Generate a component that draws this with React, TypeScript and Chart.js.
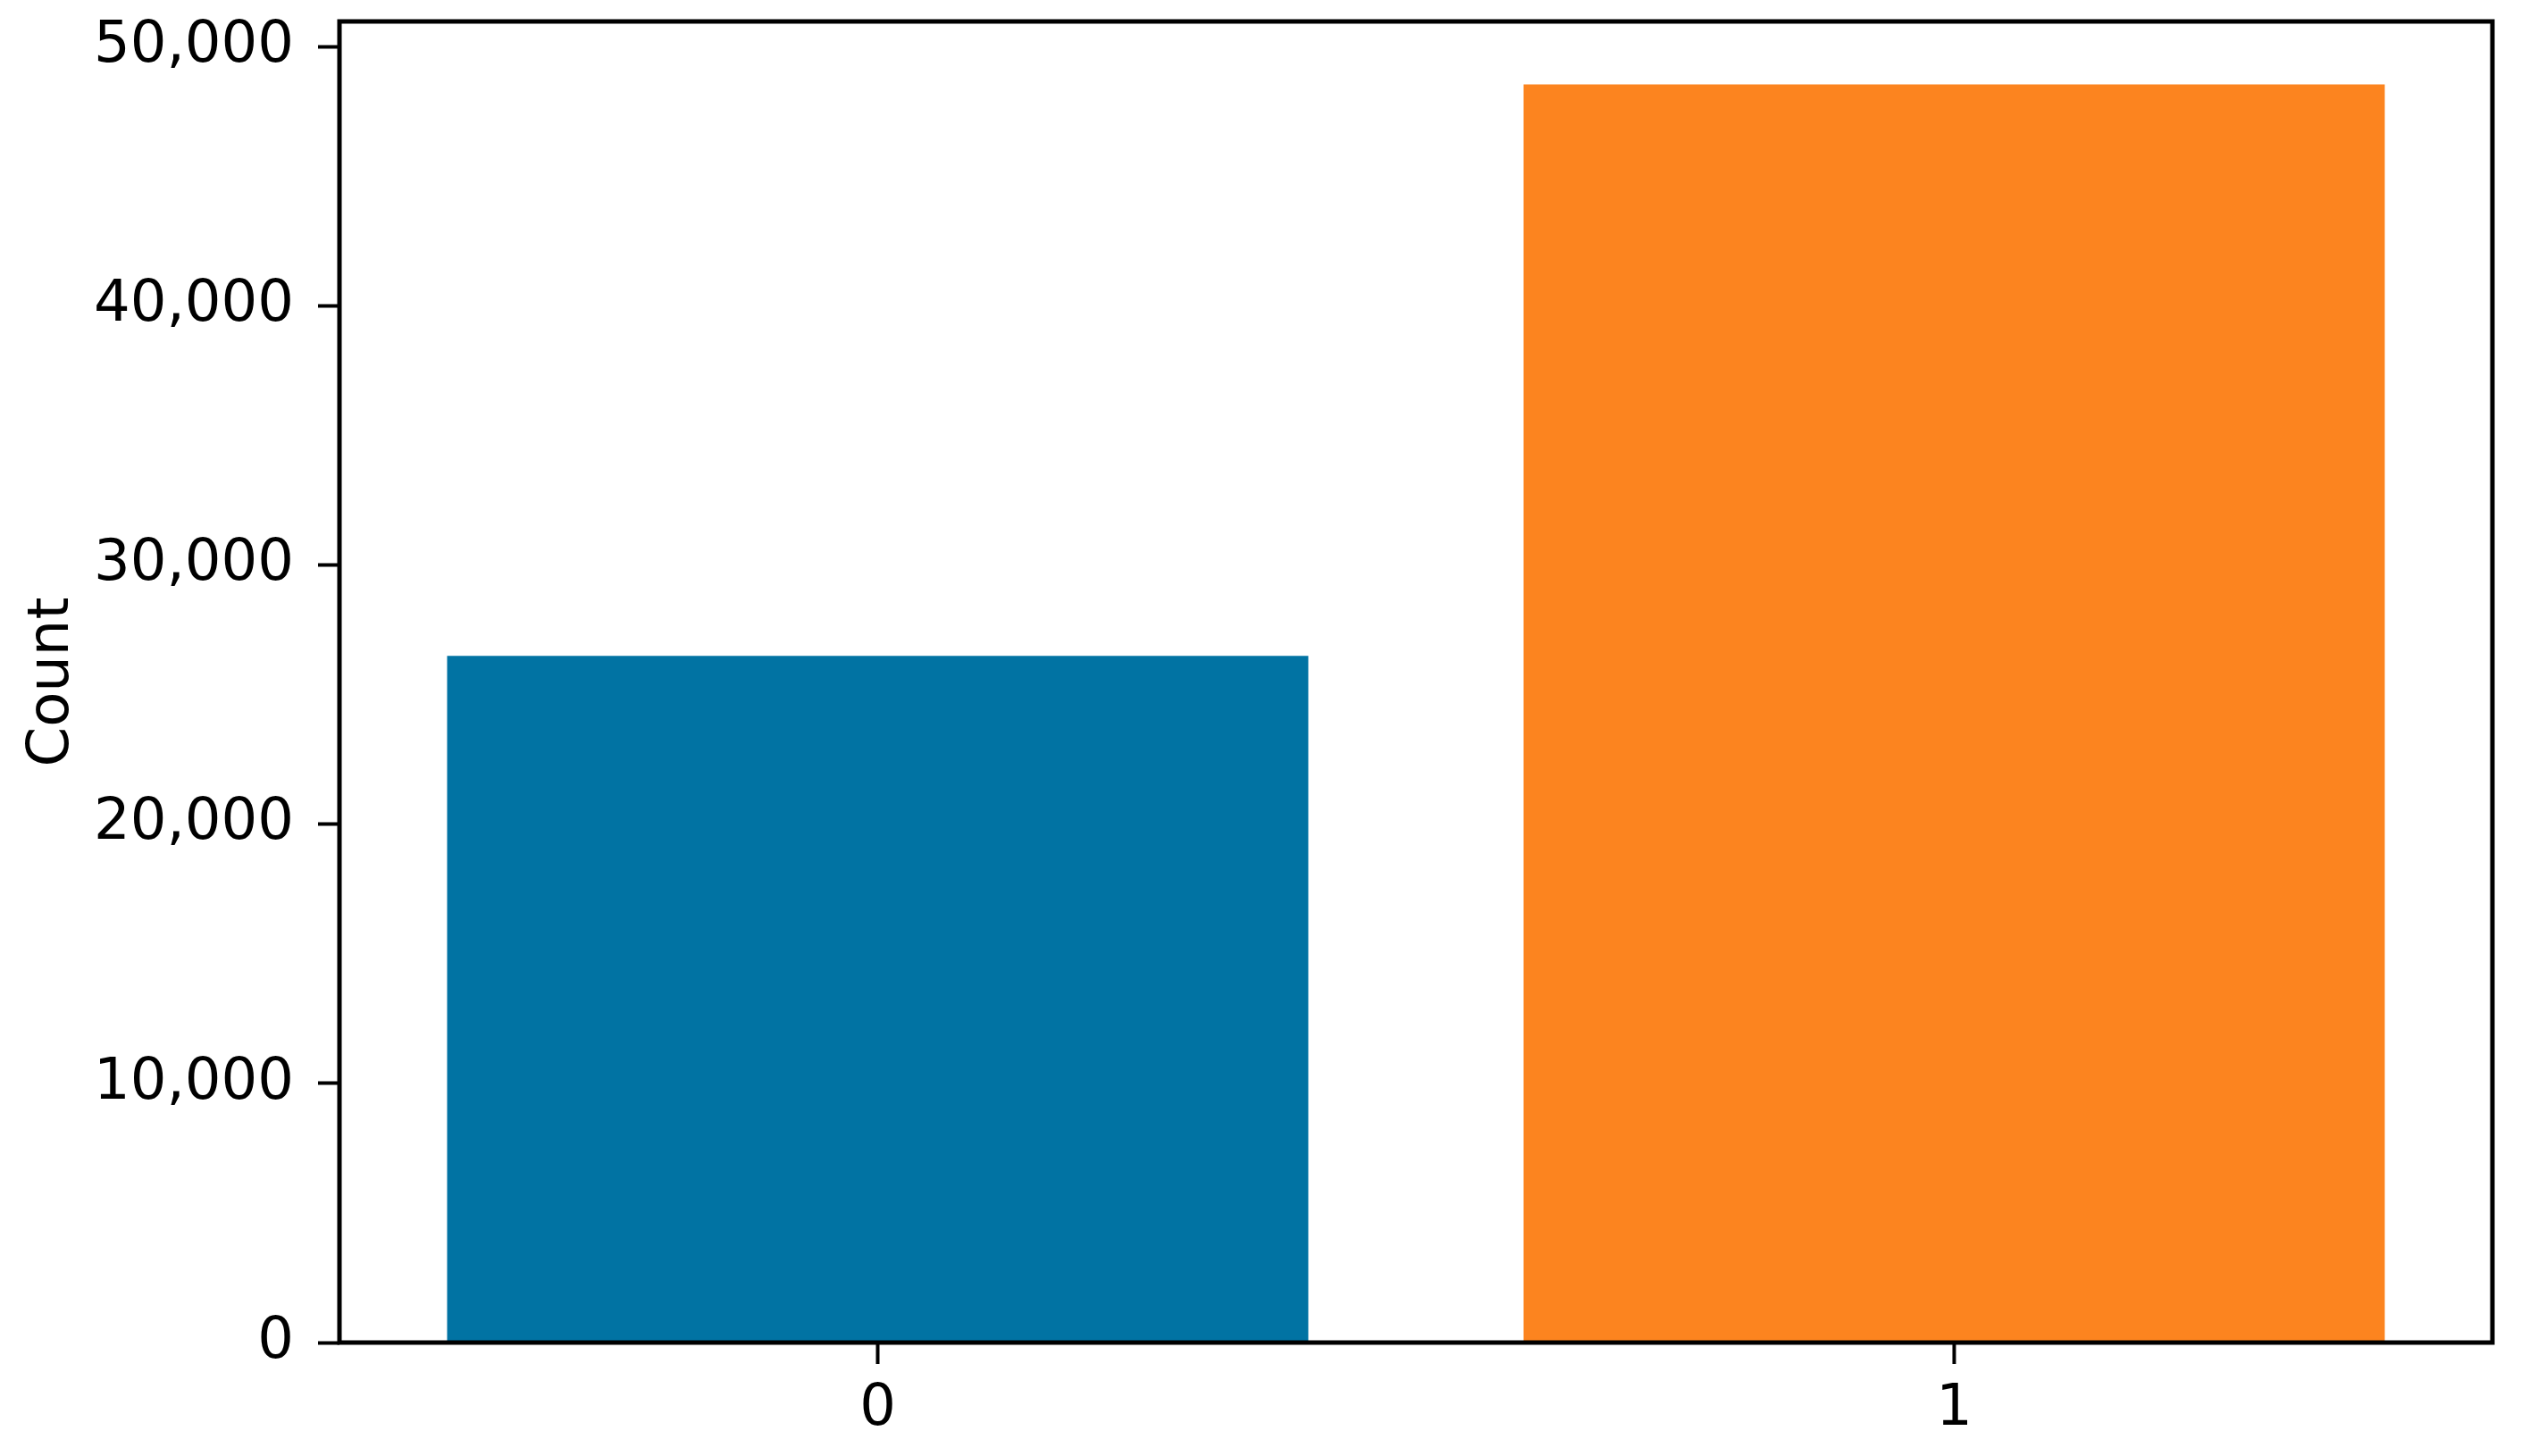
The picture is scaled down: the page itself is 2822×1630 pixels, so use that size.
import React, { useEffect, useRef } from "react";
import { Chart, registerables } from "chart.js";

Chart.register(...registerables);

const CATEGORIES = ["0", "1"];
const COUNTS = [26500, 48550];
const BAR_COLORS = ["#0173a3", "#fc841f"];
const Y_TICKS = [0, 10000, 20000, 30000, 40000, 50000];
const Y_MAX = 50980;
const Y_LABEL = "Count";

const framePlugin = {
  id: "frame",
  afterDraw(chart: any) {
    const { ctx, chartArea } = chart;
    ctx.save();
    ctx.strokeStyle = "#000";
    ctx.lineWidth = 5;
    ctx.lineJoin = "miter";
    ctx.strokeRect(
      chartArea.left,
      chartArea.top,
      chartArea.right - chartArea.left,
      chartArea.bottom - chartArea.top
    );
    ctx.restore();
  },
};

export default function App() {
  const ref = useRef<HTMLCanvasElement | null>(null);

  useEffect(() => {
    document.body.style.margin = "0";
    document.body.style.overflow = "hidden";
    const canvas = ref.current;
    if (!canvas) return;
    const font = { family: "'DejaVu Sans', sans-serif", size: 64 };
    const chart = new Chart(canvas, {
      type: "bar",
      data: {
        labels: CATEGORIES,
        datasets: [
          {
            data: COUNTS,
            backgroundColor: BAR_COLORS,
            borderWidth: 0,
            categoryPercentage: 1,
            barPercentage: 0.8,
          },
        ],
      },
      options: {
        responsive: false,
        animation: false,
        devicePixelRatio: 1,
        layout: { padding: { top: 24, right: 32, left: 0, bottom: 0 } },
        plugins: {
          legend: { display: false },
          tooltip: { enabled: false },
        },
        scales: {
          x: {
            offset: true,
            grid: {
              drawOnChartArea: false,
              drawTicks: true,
              tickLength: 24,
              tickWidth: 4,
              tickColor: "#000",
              offset: false,
            },
            border: { display: false },
            ticks: { color: "#000", font, padding: 13, maxRotation: 0 },
            afterFit(scale: any) {
              scale.height = 127;
              scale.paddingLeft = 0;
              scale.paddingRight = 0;
            },
          },
          y: {
            min: 0,
            max: Y_MAX,
            grid: {
              drawOnChartArea: false,
              drawTicks: true,
              tickLength: 24,
              tickWidth: 4,
              tickColor: "#000",
            },
            border: { display: false },
            ticks: {
              color: "#000",
              font,
              padding: 27,
              callback: (v: any) => Number(v).toLocaleString("en-US"),
            },
            afterBuildTicks(scale: any) {
              scale.ticks = Y_TICKS.map((v) => ({ value: v }));
            },
            title: {
              display: true,
              text: Y_LABEL,
              color: "#000",
              font,
              padding: { top: 21, bottom: 0 },
            },
            afterFit(scale: any) {
              scale.width = 380;
              scale.paddingTop = 0;
              scale.paddingBottom = 0;
            },
          },
        },
      },
      plugins: [framePlugin],
    });
    return () => chart.destroy();
  }, []);

  return (
    <canvas
      ref={ref}
      width={2822}
      height={1630}
      style={{ display: "block", width: 2822, height: 1630 }}
    />
  );
}
